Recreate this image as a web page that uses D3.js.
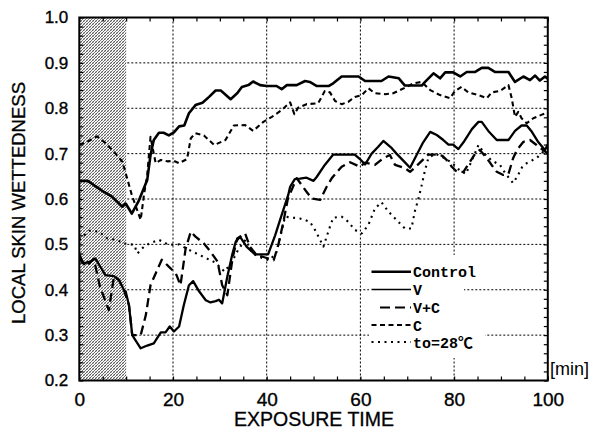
<!DOCTYPE html>
<html>
<head>
<meta charset="utf-8">
<script src="https://cdn.jsdelivr.net/npm/d3@7"></script>
<style>
  html, body { margin: 0; padding: 0; background: #fff; }
  svg { display: block; }
</style>
</head>
<body>
<svg id="chart" width="592" height="431"></svg>
<script>
// Tick values and labels
const xTickValues = [0, 20, 40, 60, 80, 100];
const yTickValues = [0.2, 0.3, 0.4, 0.5, 0.6, 0.7, 0.8, 0.9, 1.0];
const preExposureEnd = 10; // shaded pre-exposure period [min]

// Series: [time (min), local skin wettedness]
const controlData = [
  [0,0.64],[1.8,0.64],[4.9,0.618],[7,0.605],[9.2,0.583],[9.9,0.59],[11.2,0.568],[12.6,0.594],
  [14.5,0.642],[15.2,0.697],[15.9,0.73],[17,0.746],[18,0.746],[19.1,0.74],[20.2,0.747],[21.3,0.76],
  [22.4,0.762],[23.4,0.789],[24.8,0.807],[26.3,0.812],[27.7,0.825],[29.1,0.839],[30.2,0.839],[32.3,0.82],
  [33.7,0.833],[34.7,0.847],[36.1,0.851],[37.1,0.859],[38.6,0.851],[40,0.849],[42.1,0.849],[43.2,0.842],
  [44.3,0.851],[46.4,0.851],[48.2,0.86],[49.2,0.858],[50.7,0.849],[53.2,0.849],[54.2,0.855],[56,0.87],
  [59.6,0.87],[61,0.86],[64.5,0.86],[66,0.87],[68.2,0.866],[69.5,0.85],[73.1,0.85],[73.8,0.858],
  [75.6,0.877],[77,0.866],[78.1,0.879],[79.8,0.879],[81.3,0.87],[82.7,0.88],[84.5,0.88],[85.9,0.889],
  [87.3,0.889],[88.7,0.88],[91.6,0.88],[93,0.858],[94.8,0.87],[96.2,0.862],[97.3,0.872],[98.3,0.861],
  [99.4,0.87],[100,0.865]
];
const vData = [
  [0,0.478],[0.9,0.458],[2.3,0.462],[3.4,0.469],[5.6,0.432],[7.4,0.43],[8.5,0.421],[9.5,0.4],
  [9.9,0.396],[10.6,0.366],[11.3,0.3],[13.1,0.271],[14.5,0.277],[15.9,0.282],[17.4,0.306],[18.4,0.306],
  [19.3,0.319],[20.2,0.308],[21.3,0.319],[22.3,0.366],[23.4,0.41],[24.3,0.419],[25.6,0.396],[27,0.377],
  [28,0.372],[29.1,0.375],[29.8,0.378],[30.5,0.37],[31.6,0.429],[32.7,0.48],[33.4,0.506],[34.3,0.517],
  [35.7,0.495],[37.5,0.478],[40.3,0.478],[41.8,0.52],[43.2,0.565],[44.6,0.609],[45,0.627],[46,0.644],
  [47.1,0.645],[48.5,0.647],[50,0.64],[50.7,0.649],[52.4,0.675],[54.2,0.698],[58.8,0.698],[59.9,0.688],
  [61,0.676],[62.4,0.7],[63.8,0.715],[64.9,0.728],[66.7,0.712],[67.7,0.7],[69.2,0.684],[70.6,0.669],
  [72,0.697],[73.4,0.725],[74.9,0.748],[76.3,0.741],[77.7,0.73],[78.8,0.72],[79.8,0.72],[80.9,0.71],
  [82,0.725],[83.8,0.754],[85.2,0.77],[85.9,0.77],[87.3,0.75],[89.1,0.73],[91.6,0.73],[93,0.75],
  [94.4,0.762],[95.5,0.762],[96.6,0.748],[98,0.725],[99.4,0.708],[100,0.72]
];
const vcData = [
  [0,0.47],[1.4,0.451],[3.1,0.468],[4.4,0.407],[6.3,0.355],[7.4,0.429],[8.5,0.421],[9.5,0.4],
  [10.6,0.366],[11.3,0.3],[13.1,0.3],[14.2,0.344],[15.2,0.41],[16.3,0.436],[17.6,0.466],[19.1,0.451],
  [20.6,0.436],[21.6,0.41],[22.7,0.491],[23.8,0.528],[24.8,0.517],[26.6,0.502],[28,0.484],[29.5,0.462],
  [30.5,0.41],[31.6,0.388],[32.7,0.469],[33.7,0.513],[35.4,0.524],[36.4,0.495],[37.8,0.477],[40,0.47],
  [41.5,0.465],[42.5,0.5],[43.5,0.546],[44.5,0.6],[46.4,0.646],[48.5,0.616],[49.6,0.601],[51.4,0.598],
  [52.8,0.627],[53.9,0.646],[56,0.671],[57.8,0.681],[59.9,0.671],[61,0.68],[63.1,0.675],[64.9,0.69],
  [66.3,0.697],[67.4,0.675],[69.5,0.668],[70.6,0.66],[71.5,0.668],[73.1,0.684],[74.5,0.698],[76.3,0.698],
  [77.5,0.695],[78.8,0.682],[79.5,0.671],[80.6,0.66],[82,0.66],[83.4,0.682],[84.5,0.7],[85.5,0.708],
  [87,0.69],[88,0.675],[89.1,0.66],[90.5,0.653],[91.6,0.655],[92.6,0.69],[93.4,0.708],[94.8,0.726],
  [96.2,0.73],[97.6,0.719],[99,0.708],[100,0.7]
];
const cData = [
  [0,0.72],[1.7,0.726],[3.8,0.738],[5.6,0.723],[7.4,0.704],[9.2,0.682],[10.2,0.646],[11.2,0.609],
  [12.2,0.58],[13.1,0.554],[13.8,0.609],[14.5,0.653],[15.2,0.737],[16.3,0.679],[17.4,0.686],[18.8,0.683],
  [20.2,0.684],[21.3,0.679],[23,0.688],[23.8,0.734],[24.8,0.745],[26.6,0.74],[28.8,0.719],[31.2,0.73],
  [33,0.762],[35.4,0.763],[37.1,0.75],[39.3,0.77],[41.1,0.781],[43.2,0.796],[45,0.813],[45.9,0.787],
  [46.7,0.801],[48.5,0.809],[51,0.811],[52.4,0.838],[53.5,0.835],[54.6,0.816],[56,0.809],[57.4,0.814],
  [58.8,0.825],[60.3,0.829],[61.7,0.844],[63.1,0.833],[65.3,0.831],[67,0.833],[69.9,0.847],[71.3,0.855],
  [73.1,0.858],[74.9,0.84],[77,0.829],[79.1,0.822],[80.2,0.838],[81.6,0.847],[83,0.835],[85.2,0.829],
  [87,0.822],[88,0.835],[89.8,0.838],[91.6,0.851],[92.3,0.822],[93,0.781],[93.7,0.792],[94.4,0.778],
  [95.5,0.767],[96.9,0.778],[99,0.787],[100,0.79]
];
const to28Data = [
  [0,0.51],[2.1,0.53],[4.2,0.528],[6,0.513],[8,0.51],[9.5,0.502],[11.7,0.499],[12.4,0.48],
  [13.8,0.495],[15,0.502],[17,0.51],[19.1,0.499],[21.3,0.5],[23,0.49],[25,0.48],[27,0.47],
  [29,0.46],[31,0.44],[32.5,0.46],[34,0.49],[35.5,0.51],[37,0.48],[39,0.47],[40.5,0.465],
  [42,0.48],[43,0.52],[43.9,0.561],[47.1,0.557],[49.2,0.55],[50.3,0.532],[51.4,0.51],[52.1,0.495],
  [53.5,0.539],[54.2,0.559],[56,0.561],[57.4,0.55],[58.8,0.532],[60.3,0.524],[61.7,0.543],[63.1,0.579],
  [64.5,0.593],[66,0.572],[67.7,0.554],[69.5,0.535],[70.9,0.535],[71.6,0.572],[72.4,0.601],[73.1,0.631],
  [73.8,0.664],[74.5,0.69],[76,0.7],[78,0.69],[79.5,0.68],[81,0.665],[82.5,0.655],[84,0.69],
  [85.2,0.719],[86.5,0.7],[88,0.685],[89.8,0.675],[90.9,0.657],[92.6,0.635],[93.5,0.65],[94.5,0.67],
  [95.5,0.679],[97.6,0.69],[99.8,0.712]
];

const seriesNames = ["Control", "V", "V+C", "C", "to=28\u2103"];
const seriesData = [controlData, vData, vcData, cData, to28Data];
const seriesStyle = [
  { width: 2.6, dash: null },
  { width: 2.3, dash: null },
  { width: 2.3, dash: "9,5" },
  { width: 2.1, dash: "5,3.5" },
  { width: 2.1, dash: "2,4.5" }
];

const svg = d3.select("#chart");
const plotLeft = 79.3, plotRight = 547.8, plotTop = 17.5, plotBottom = 380.5;

const x = d3.scaleLinear().domain([0, 100]).range([plotLeft, plotRight]);
const y = d3.scaleLinear().domain([0.2, 1.0]).range([plotBottom, plotTop]);

// Fine crosshatch pattern for the pre-exposure band
const defs = svg.append("defs");
const pat = defs.append("pattern")
  .attr("id", "hatch").attr("patternUnits", "userSpaceOnUse")
  .attr("width", 3).attr("height", 3);
pat.append("rect").attr("width", 3).attr("height", 3).attr("fill", "#fff");
pat.append("path").attr("d", "M-1,1 L1,-1 M0,3 L3,0 M2,4 L4,2")
  .attr("stroke", "#333").attr("stroke-width", 0.8);
pat.append("path").attr("d", "M0,0 L3,3")
  .attr("stroke", "#888").attr("stroke-width", 0.5);

defs.append("clipPath").attr("id", "plotClip")
  .append("rect").attr("x", plotLeft).attr("y", plotTop)
  .attr("width", plotRight - plotLeft).attr("height", plotBottom - plotTop);

// Dotted grid
const grid = svg.append("g").attr("class", "grid")
  .attr("stroke", "#000").attr("stroke-width", 1).attr("stroke-dasharray", "2,2");
grid.selectAll("line.gx").data(xTickValues.filter(v => v > 0 && v < 100)).join("line")
  .attr("class", "gx")
  .attr("x1", d => x(d)).attr("x2", d => x(d))
  .attr("y1", plotTop).attr("y2", plotBottom);
grid.selectAll("line.gy").data(yTickValues.filter(v => v > 0.2 && v < 1.0)).join("line")
  .attr("class", "gy")
  .attr("x1", plotLeft).attr("x2", plotRight)
  .attr("y1", d => y(d)).attr("y2", d => y(d));

// Pre-exposure band
svg.append("rect")
  .attr("x", x(0)).attr("y", plotTop)
  .attr("width", x(preExposureEnd) - x(0)).attr("height", plotBottom - plotTop)
  .attr("fill", "url(#hatch)");

// Legend backdrop masks the grid beneath the key
svg.append("rect").attr("x", 369).attr("y", 255).attr("width", 95).attr("height", 103).attr("fill", "#fff");
svg.append("rect").attr("x", 369).attr("y", 331).attr("width", 116).attr("height", 20).attr("fill", "#fff");

// Data lines
const line = d3.line().x(d => x(d[0])).y(d => y(d[1]));
const lines = svg.append("g").attr("clip-path", "url(#plotClip)");
seriesData.forEach((data, i) => {
  lines.append("path")
    .datum(data)
    .attr("d", line)
    .attr("fill", "none")
    .attr("stroke", "#000")
    .attr("stroke-width", seriesStyle[i].width)
    .attr("stroke-linejoin", "round")
    .attr("stroke-dasharray", seriesStyle[i].dash);
});

// Inward minor ticks on all four sides
const minorX = d3.range(0, 101, 5);
const minorY = d3.range(0.2, 1.0001, 0.02);
svg.append("g").attr("transform", `translate(0,${plotBottom})`)
  .call(d3.axisBottom(x).tickValues(minorX).tickSize(-4).tickFormat(""))
  .call(g => g.select(".domain").remove())
  .selectAll("line").attr("stroke-width", 1.2);
svg.append("g").attr("transform", `translate(0,${plotTop})`)
  .call(d3.axisTop(x).tickValues(minorX).tickSize(-4).tickFormat(""))
  .call(g => g.select(".domain").remove())
  .selectAll("line").attr("stroke-width", 1.2);
svg.append("g").attr("transform", `translate(${plotRight},0)`)
  .call(d3.axisRight(y).tickValues(minorY).tickSize(-4).tickFormat(""))
  .call(g => g.select(".domain").remove())
  .selectAll("line").attr("stroke-width", 1.2);
svg.append("g").attr("transform", `translate(${plotLeft},0)`)
  .call(d3.axisLeft(y).tickValues(minorY).tickSize(-4).tickFormat(""))
  .call(g => g.select(".domain").remove())
  .selectAll("line").attr("stroke-width", 1.2);

// Frame
svg.append("rect")
  .attr("x", plotLeft).attr("y", plotTop)
  .attr("width", plotRight - plotLeft).attr("height", plotBottom - plotTop)
  .attr("fill", "none").attr("stroke", "#000").attr("stroke-width", 2);

// Tick labels
const labelFont = "'Liberation Sans', Arial, sans-serif";
const xAxis = svg.append("g").attr("transform", `translate(0,${plotBottom})`)
  .call(d3.axisBottom(x).tickValues(xTickValues).tickSize(0).tickPadding(12).tickFormat(d3.format("d")));
xAxis.select(".domain").remove();
xAxis.selectAll("text")
  .attr("font-family", labelFont)
  .attr("font-size", 19).attr("fill", "#000")
  .attr("stroke", "#000").attr("stroke-width", 0.35);

const yAxis = svg.append("g").attr("transform", `translate(${plotLeft},0)`)
  .call(d3.axisLeft(y).tickValues(yTickValues).tickSize(0).tickPadding(11).tickFormat(d3.format(".1f")));
yAxis.select(".domain").remove();
yAxis.selectAll("text")
  .attr("font-family", labelFont)
  .attr("font-size", 17).attr("fill", "#000")
  .attr("stroke", "#000").attr("stroke-width", 0.35);

// Axis titles
svg.append("text")
  .attr("x", 314).attr("y", 426)
  .attr("text-anchor", "middle")
  .attr("font-family", labelFont)
  .attr("font-size", 19.5)
  .attr("stroke", "#000").attr("stroke-width", 0.3)
  .text("EXPOSURE TIME");

svg.append("text")
  .attr("transform", "translate(25,203) rotate(-90)")
  .attr("text-anchor", "middle")
  .attr("font-family", labelFont)
  .attr("font-size", 18.5)
  .attr("stroke", "#000").attr("stroke-width", 0.3)
  .text("LOCAL SKIN WETTEDNESS");

svg.append("text")
  .attr("x", 550).attr("y", 375)
  .attr("font-family", labelFont)
  .attr("font-size", 18)
  .text("[min]");

// Legend
const legendRowY = [271.7, 289.5, 307.5, 325, 342];
const legend = svg.append("g");
seriesNames.forEach((name, i) => {
  const st = seriesStyle[i];
  const x1 = i === 2 ? 380 : 371.5;
  legend.append("line")
    .attr("x1", x1).attr("x2", 411)
    .attr("y1", legendRowY[i]).attr("y2", legendRowY[i])
    .attr("stroke", "#000")
    .attr("stroke-width", i === 0 ? 2.4 : (i === 1 ? 1.6 : 2))
    .attr("stroke-dasharray", i === 2 ? "10,5" : st.dash);
  legend.append("text")
    .attr("x", 413).attr("y", legendRowY[i] + 5.5)
    .attr("font-family", "'Liberation Mono', 'Noto Sans CJK JP', monospace")
    .attr("font-weight", "bold")
    .attr("font-size", 15)
    .text(name);
});
</script>
</body>
</html>
